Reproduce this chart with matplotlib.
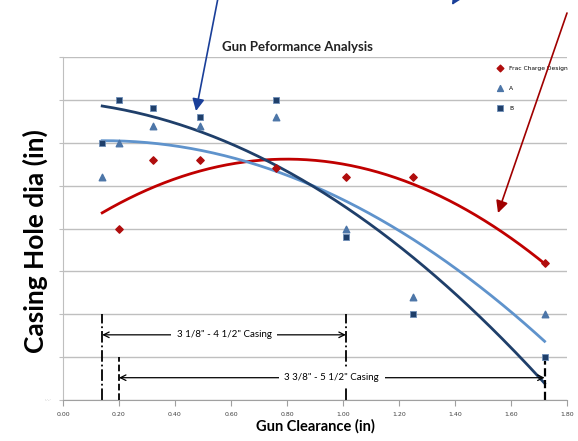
import numpy as np
import matplotlib.pyplot as plt
from matplotlib.patches import FancyArrowPatch

# clearance values (in) and casing hole dia readings (grid units, axis unlabeled)
frac_x = [0.20, 0.32, 0.49, 0.76, 1.01, 1.25, 1.72]
frac_y = [4.0, 5.6, 5.6, 5.4, 5.2, 5.2, 3.2]
a_x = [0.14, 0.20, 0.32, 0.49, 0.76, 1.01, 1.25, 1.72]
a_y = [5.2, 6.0, 6.4, 6.4, 6.6, 4.0, 2.4, 2.0]
b_x = [0.14, 0.20, 0.32, 0.49, 0.76, 1.01, 1.25, 1.72]
b_y = [6.0, 7.0, 6.8, 6.6, 7.0, 3.8, 2.0, 1.0]
x_ticks = [0.0, 0.2, 0.4, 0.6, 0.8, 1.0, 1.2, 1.4, 1.6, 1.8]

red = '#b00d0d'
navy = '#1f3f6a'
steel = '#4d76a8'
light = '#5f93cc'

fig = plt.figure(figsize=(5.78, 4.41), dpi=100)
ax = fig.add_axes([63 / 578, 41 / 441, 504 / 578, 343 / 441])
ax.set_xlim(0, 1.8)
ax.set_ylim(0, 8)

# gridlines
ax.set_yticks(range(0, 9))
ax.yaxis.grid(True, color='#bfbfbf', lw=1)
ax.set_axisbelow(True)
ax.tick_params(axis='y', labelleft=False, length=3, color='#bfbfbf')
ax.set_xticks(x_ticks)
ax.set_xticklabels(['%.2f' % v for v in x_ticks], fontsize=4.5, color='#404040')
ax.tick_params(axis='x', length=4, color='#a0a0a0', pad=4.5)
for s in ['top', 'right']:
    ax.spines[s].set_visible(False)
ax.spines['left'].set_color('#bfbfbf')
ax.spines['bottom'].set_color('#a0a0a0')

# 2nd order trendlines
xs = np.linspace(0.14, 1.72, 200)
for xd, yd, c in [(frac_x, frac_y, '#c00000'), (a_x, a_y, light), (b_x, b_y, navy)]:
    p = np.polyfit(xd, yd, 2)
    ax.plot(xs, np.polyval(p, xs), color=c, lw=2, zorder=2)

ax.scatter(frac_x, frac_y, marker='D', s=14, color=red, zorder=3, label='Frac Charge Design')
ax.scatter(a_x, a_y, marker='^', s=22, color=steel, zorder=3, label='A')
ax.scatter(b_x, b_y, marker='s', s=22, color=navy, edgecolor='#6f8fb8', lw=0.6, zorder=3, label='B')

ax.legend(loc='upper left', bbox_to_anchor=(489 / 578, 381 / 441), bbox_transform=fig.transFigure,
          frameon=False, fontsize=4.3, labelspacing=2.5, handletextpad=0.5, markerscale=0.9)

fig.text(297 / 578, (441 - 47) / 441, 'Gun Peformance Analysis', fontsize=9.5, fontweight='bold',
         family='Lato', color='#222222', ha='center', va='center')
ax.set_xlabel('Gun Clearance (in)', fontsize=10.5, fontweight='bold', family='Lato', labelpad=2)
fig.text(35 / 578, (441 - 241) / 441, 'Casing Hole dia (in)', rotation=90, fontsize=19, fontweight='bold',
         family='Lato', ha='center', va='center')
ax.text(-0.04, 0, '·-·-·', fontsize=3, color='#909090', ha='right', va='center')

# casing range markers
ax.plot([0.14, 0.14], [0, 2.0], color='black', lw=1.3, ls='-.')
ax.plot([1.01, 1.01], [0, 2.0], color='black', lw=1.3, ls='-.')
ax.plot([0.20, 0.20], [0, 1.0], color='black', lw=1.3, ls='--')
ax.plot([1.72, 1.72], [0, 1.0], color='black', lw=1.6, ls='--')
ax.annotate('', xy=(0.14, 1.52), xytext=(1.01, 1.52),
            arrowprops=dict(arrowstyle='<->', color='black', lw=0.9, shrinkA=0, shrinkB=0))
ax.annotate('', xy=(0.20, 0.52), xytext=(1.72, 0.52),
            arrowprops=dict(arrowstyle='<->', color='black', lw=0.9, shrinkA=0, shrinkB=0))
ax.text(0.575, 1.52, '3 1/8" - 4 1/2" Casing', fontsize=7, family='Lato', ha='center', va='center',
        bbox=dict(facecolor='white', edgecolor='none', pad=4))
ax.text(0.96, 0.52, '3 3/8" - 5 1/2" Casing', fontsize=7, family='Lato', ha='center', va='center',
        bbox=dict(facecolor='white', edgecolor='none', pad=4))

# callout arrows drawn on the figure
for start, end, c in [((218, 443), (196, 330), '#1a3f99'),
                      ((458, 446), (452, 436), '#1a3f99'),
                      ((567, 428), (498, 228), '#a00000')]:
    fig.add_artist(FancyArrowPatch(start, end, transform=None, arrowstyle='-|>',
                                   mutation_scale=18, color=c, lw=1.2, shrinkA=0, shrinkB=0))

fig.savefig('out.png', dpi=100)
